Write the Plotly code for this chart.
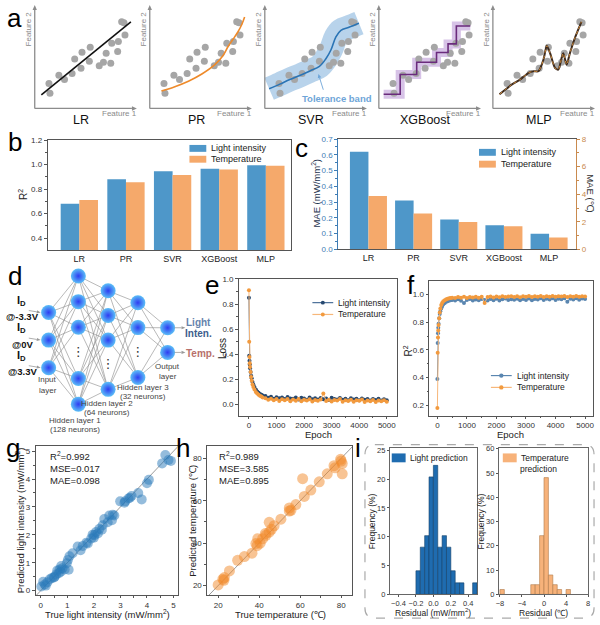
import math
import plotly.graph_objects as go

W, H = 600, 625
FONT = "Arial, Liberation Sans, sans-serif"

# ------------------------------------------------------------------ data
# panel a : schematic data
DOTS_X = [1.42, 1.52, 2.41, 2.97, 3.73, 3.99, 4.62, 4.72, 5.45, 5.54, 6.44, 6.86, 7.13, 7.59, 7.69, 8.28, 8.35, 8.68, 8.91, 9.01]
DOTS_Y = [2.47, 1.49, 3.28, 2.86, 3.44, 4.87, 3.96, 5.55, 4.64, 6.04, 4.22, 4.55, 5.45, 4.45, 6.43, 5.62, 6.59, 8.54, 8.44, 7.24]
LR_X = [0.66, 9.6]
LR_Y = [1.33, 8.54]
PR_X = [1.16, 2.5, 3.86, 5.2, 6.5, 7.3, 7.82, 8.3, 8.81, 9.2, 9.47]
PR_Y = [1.72, 2.15, 2.69, 3.4, 4.32, 5.2, 6.1, 6.8, 7.56, 8.3, 9.0]
SVR_X = [0.43, 1.5, 2.5, 3.5, 4.5, 5.45, 6.1, 6.6, 7.1, 7.6, 8.4, 9.4]
SVR_Y = [1.94, 2.4, 2.85, 3.25, 3.7, 4.14, 4.9, 5.76, 7.06, 7.7, 8.0, 8.4]
XGB_X = [0.48, 2.13, 3.78, 5.76, 6.91, 7.74, 9.13]
XGB_Y = [1.40, 3.34, 4.55, 5.52, 6.36, 8.12, 8.12]
MLP_X = [0.66, 1.91, 2.74, 3.56, 4.06, 4.55, 5.05, 5.38, 5.71, 6.2, 6.53, 6.86, 7.03, 7.36, 7.69, 8.18, 8.51, 8.84]
MLP_Y = [1.40, 2.37, 2.86, 3.51, 3.67, 3.67, 4.81, 6.17, 5.45, 3.99, 3.83, 4.97, 5.45, 4.32, 5.45, 6.92, 7.73, 8.54]
A_NAMES = ['LR', 'PR', 'SVR', 'XGBoost', 'MLP']

# panels b, c
MODELS = ['LR', 'PR', 'SVR', 'XGBoost', 'MLP']
R2_LIGHT = [0.68, 0.88, 0.945, 0.965, 0.995]
R2_TEMP = [0.71, 0.855, 0.915, 0.96, 0.99]
MAE_LIGHT = [0.62, 0.31, 0.19, 0.154, 0.10]
MAE_TEMP = [3.87, 2.6, 1.98, 1.68, 0.87]

# panel d : network
NET_SLOTS = [3, 6, 5, 4, 2]
NET_DOTS = [None, 3, 3, 2, None]
INPUT_LABELS = ['@-3.3V', '@0V', '@3.3V']

# panels e, f : training curves
EPOCHS = [0, 10, 20, 30, 40, 60, 80, 100, 130, 160, 200, 250, 300, 350, 400, 450, 500] + list(range(600, 5001, 100))
LOSS_LIGHT = [0.85, 0.39, 0.35, 0.32, 0.29, 0.26, 0.23, 0.21, 0.18, 0.16, 0.14, 0.12, 0.105, 0.095, 0.085, 0.078, 0.072,
              0.068, 0.055, 0.062, 0.048, 0.060, 0.052, 0.058, 0.045, 0.061, 0.050,
              0.047, 0.058, 0.042, 0.055, 0.049, 0.040, 0.057, 0.044, 0.052, 0.041,
              0.054, 0.043, 0.050, 0.038, 0.056, 0.045, 0.041, 0.053, 0.039, 0.048,
              0.036, 0.051, 0.042, 0.047, 0.035, 0.049, 0.040, 0.046, 0.033, 0.045,
              0.038, 0.047, 0.034, 0.043, 0.036]
LOSS_TEMP = [0.91, 0.50, 0.38, 0.33, 0.30, 0.26, 0.22, 0.19, 0.16, 0.14, 0.12, 0.10, 0.088, 0.078, 0.07, 0.064, 0.058,
             0.052, 0.040, 0.048, 0.035, 0.046, 0.030, 0.043, 0.036, 0.045, 0.028,
             0.041, 0.032, 0.046, 0.027, 0.040, 0.034, 0.044, 0.026, 0.038, 0.031,
             0.042, 0.088, 0.029, 0.039, 0.025, 0.037, 0.033, 0.045, 0.024, 0.036,
             0.030, 0.040, 0.023, 0.035, 0.031, 0.042, 0.022, 0.034, 0.028, 0.038,
             0.021, 0.033, 0.027, 0.036, 0.024]
R2C_LIGHT = [0.39, 0.65, 0.72, 0.76, 0.79, 0.83, 0.86, 0.88, 0.90, 0.915, 0.93, 0.94, 0.948, 0.953, 0.957, 0.96, 0.962,
             0.958, 0.966, 0.955, 0.940, 0.962, 0.968, 0.957, 0.965, 0.960, 0.969,
             0.962, 0.957, 0.968, 0.960, 0.970, 0.958, 0.966, 0.972, 0.961, 0.967,
             0.963, 0.971, 0.959, 0.968, 0.962, 0.972, 0.960, 0.969, 0.964, 0.973,
             0.961, 0.970, 0.965, 0.973, 0.962, 0.970, 0.966, 0.974, 0.948, 0.971,
             0.965, 0.973, 0.963, 0.972, 0.969]
R2C_TEMP = [0.18, 0.58, 0.69, 0.74, 0.78, 0.83, 0.87, 0.90, 0.925, 0.94, 0.952, 0.96, 0.966, 0.97, 0.973, 0.975, 0.977,
            0.975, 0.982, 0.978, 0.984, 0.976, 0.983, 0.979, 0.985, 0.977, 0.984,
            0.940, 0.983, 0.986, 0.979, 0.987, 0.981, 0.988, 0.982, 0.986, 0.989,
            0.983, 0.988, 0.981, 0.989, 0.984, 0.990, 0.982, 0.988, 0.985, 0.990,
            0.983, 0.989, 0.985, 0.991, 0.984, 0.988, 0.986, 0.990, 0.983, 0.989,
            0.985, 0.990, 0.984, 0.989, 0.987]

# panel g
G_TRUE = [0.02, 0.09, 0.15, 0.19, 0.25, 0.34, 0.42, 0.5, 0.52, 0.58, 0.62, 0.68, 0.71, 0.75, 0.77, 0.82, 0.9, 0.98, 1.02, 1.05,
          1.08, 1.2, 1.39, 1.5, 1.58, 1.72, 1.77, 1.9, 1.95, 2.0, 2.02, 2.08, 2.15, 2.21, 2.3, 2.33, 2.39, 2.52, 2.58, 2.68,
          2.71, 2.77, 2.99, 3.15, 3.18, 3.3, 3.36, 3.42, 3.67, 3.8, 4.0, 4.07, 4.57, 4.69, 4.81, 4.9]
G_PRED = [0.15, 0.32, 0.22, 0.18, 0.3, 0.41, 0.45, 0.47, 0.5, 0.58, 0.72, 0.62, 0.76, 0.68, 0.88, 0.8, 0.76, 0.98, 1.1, 0.75,
          1.23, 1.34, 1.58, 1.45, 1.6, 1.72, 1.69, 1.87, 2.0, 1.9, 1.99, 2.1, 2.05, 2.22, 2.18, 2.34, 2.57, 2.45, 2.69, 2.52,
          2.72, 2.69, 3.2, 3.15, 3.2, 3.3, 3.33, 3.39, 3.5, 3.27, 3.85, 3.97, 4.56, 4.86, 4.68, 4.65]
G_LINE = [-0.2, 5.2]
G_STATS = ['R<sup>2</sup>=0.992', 'MSE=0.017', 'MAE=0.098']

# panel h
H_TRUE = [20, 22.3, 23, 25.5, 29.5, 32.8, 36.5, 38.4, 39.3, 40.5, 41.7, 43.3, 44.9, 44.9, 46, 47.3, 50.6, 54.7, 54.7, 57.9,
          61.2, 62, 65.2, 69.3, 73.2, 76.5, 77, 79.7, 80.5, 80.5, 22.8, 39, 43, 55.5, 80]
H_PRED = [20.3, 23, 23.8, 26.9, 31.9, 33.7, 35.3, 39.8, 42.1, 40, 42.1, 43.7, 45.2, 49.8, 46.5, 48.2, 51.3, 55.1, 56.6, 58.2,
          70.4, 62, 65, 68.9, 72.7, 76.5, 75.5, 79.5, 72.7, 77.5, 22.5, 38.8, 44.5, 55.5, 78.7]
H_LINE = [14, 86]
H_STATS = ['R<sup>2</sup>=0.989', 'MSE=3.585', 'MAE=0.895']

# panel i : residual histograms (left bin edges, frequency %)
LIGHT_BINS = [-0.2, -0.15, -0.1, -0.05, 0.0, 0.05, 0.1, 0.15, 0.2, 0.25, 0.3, 0.45]
LIGHT_FREQ = [4.1, 8.2, 10.2, 20.4, 22.4, 8.2, 10.2, 8.2, 4.1, 2.0, 2.0, 2.0]
LIGHT_BW = 0.05
TEMP_BINS = [-8.0, -2.4, -1.6, -0.8, 0.0, 0.8, 1.6, 2.4, 4.0]
TEMP_FREQ = [2.0, 4.0, 4.0, 24.2, 48.1, 8.0, 4.0, 2.0, 2.0]
TEMP_BW = 0.8

# colours
BLUE = '#4e97c9'
ORANGE = '#f5a96b'

# ------------------------------------------------------------------ helpers
fig = go.Figure()
L = {}
ann = []
shp = []


def X(p):
    return p / W


def Y(p):
    return 1 - p / H


def xid(n):
    return 'x' if n == 1 else f'x{n}'


def yid(n):
    return 'y' if n == 1 else f'y{n}'


def xkey(n):
    return 'xaxis' if n == 1 else f'xaxis{n}'


def ykey(n):
    return 'yaxis' if n == 1 else f'yaxis{n}'


def txt(x, y, s, size=9, color='#222', angle=0, xanchor='center', yanchor='middle', align='center'):
    ann.append(dict(x=X(x), y=Y(y), xref='paper', yref='paper', text=s, showarrow=False,
                    font=dict(size=size, color=color, family=FONT), textangle=angle,
                    xanchor=xanchor, yanchor=yanchor, align=align))


def arrow(x1, y1, x0, y0, color, width=1.0, hl=5.0, hw=2.5):
    """line from (x0,y0) to head at (x1,y1), in picture pixels"""
    dx, dy = x1 - x0, y1 - y0
    d = math.hypot(dx, dy)
    ux, uy = dx / d, dy / d
    bx, by = x1 - ux * hl, y1 - uy * hl
    shp.append(dict(type='line', xref='paper', yref='paper', x0=X(x0), y0=Y(y0), x1=X(bx), y1=Y(by),
                    line=dict(color=color, width=width)))
    qx, qy = -uy, ux
    p1 = (bx + qx * hw, by + qy * hw)
    p2 = (bx - qx * hw, by - qy * hw)
    shp.append(dict(type='path', xref='paper', yref='paper',
                    path=f"M {X(x1)},{Y(y1)} L {X(p1[0])},{Y(p1[1])} L {X(p2[0])},{Y(p2[1])} Z",
                    fillcolor=color, line=dict(width=0)))


def rect(x0, y0, x1, y1, fill):
    shp.append(dict(type='rect', xref='paper', yref='paper', x0=X(x0), x1=X(x1), y0=Y(y1), y1=Y(y0),
                    fillcolor=fill, line=dict(width=0)))


def hline(x0, x1, y, color, width=1):
    shp.append(dict(type='line', xref='paper', yref='paper', x0=X(x0), x1=X(x1), y0=Y(y), y1=Y(y),
                    line=dict(color=color, width=width)))


def dot(x, y, r, color):
    shp.append(dict(type='circle', xref='paper', yref='paper', x0=X(x - r), x1=X(x + r), y0=Y(y + r), y1=Y(y - r),
                    fillcolor=color, line=dict(width=0)))


def frame_axis(**kw):
    d = dict(showline=True, mirror=True, linecolor='#555', linewidth=0.8, ticks='outside', ticklen=3,
             tickwidth=0.8, tickcolor='#555', tickfont=dict(size=8, color='#333', family=FONT),
             showgrid=False, zeroline=False, fixedrange=True)
    d.update(kw)
    return d


# ------------------------------------------------------------------ panel a
A_ORIG = [32, 148, 264, 379, 494]
for i, o in enumerate(A_ORIG):
    n = i + 1
    L[xkey(n)] = dict(domain=[X(o), X(o + 101)], range=[0, 10], visible=False, anchor=yid(n), fixedrange=True)
    L[ykey(n)] = dict(domain=[Y(106), Y(3)], range=[0, 10], visible=False, anchor=xid(n), fixedrange=True)
    arrow(o + 103, 106, o, 106, '#8c8c8c', 1.3, 5, 2.2)
    arrow(o, 1, o, 106, '#8c8c8c', 1.3, 5, 2.2)
    txt(o + 85, 111, 'Feature 1', 8, '#8a8a8a')
    txt(o - 6, 25, 'Feature 2', 8, '#8a8a8a', angle=-90)
    txt(o + 47, 118, A_NAMES[i], 12.5, '#111')

    ax = dict(xaxis=xid(n), yaxis=yid(n), hoverinfo='skip', showlegend=False)
    if n == 3:
        fig.add_trace(go.Scatter(x=SVR_X, y=SVR_Y, mode='lines', line=dict(color='rgba(160,196,228,0.75)', width=24, shape='spline'), **ax))
    if n == 4:
        fig.add_trace(go.Scatter(x=XGB_X, y=XGB_Y, mode='lines', line=dict(color='rgba(205,180,225,0.8)', width=9, shape='hv'), **ax))
    fig.add_trace(go.Scatter(x=DOTS_X, y=DOTS_Y, mode='markers', marker=dict(size=7, color='#a6a6a6'), **ax))
    if n == 1:
        fig.add_trace(go.Scatter(x=LR_X, y=LR_Y, mode='lines', line=dict(color='#111', width=1.6), **ax))
    elif n == 2:
        fig.add_trace(go.Scatter(x=PR_X, y=PR_Y, mode='lines', line=dict(color='#ee8a2a', width=1.6, shape='spline'), **ax))
    elif n == 3:
        fig.add_trace(go.Scatter(x=SVR_X, y=SVR_Y, mode='lines', line=dict(color='#2a74b5', width=1.6, shape='spline'), **ax))
    elif n == 4:
        fig.add_trace(go.Scatter(x=XGB_X, y=XGB_Y, mode='lines', line=dict(color='#6a2b7c', width=1.6, shape='hv'), **ax))
    else:
        fig.add_trace(go.Scatter(x=MLP_X, y=MLP_Y, mode='lines', line=dict(color='#3c2a1e', width=2.0, shape='spline', smoothing=0.7), **ax))
        fig.add_trace(go.Scatter(x=MLP_X, y=MLP_Y, mode='lines', line=dict(color='#f6a444', width=0.8, shape='spline', smoothing=0.7, dash='dot'), **ax))

txt(337, 96, '<b>Tolerance band</b>', 9.5, '#6ea5d8')
arrow(318, 71, 323, 87, '#6ea5d8', 0.9, 4, 1.8)

# ------------------------------------------------------------------ panel b
L[xkey(6)] = frame_axis(domain=[X(45), X(290)], anchor='y6', type='category', range=[-0.68, 4.53], ticks='',
                        tickfont=dict(size=9, color='#222', family=FONT))
L[ykey(6)] = frame_axis(domain=[Y(250), Y(138)], anchor='x6', range=[0.3, 1.2], tickvals=[0.4, 0.6, 0.8, 1.0, 1.2],
                        tickformat='.1f', minor=dict(ticks='outside', ticklen=2, tickvals=[0.5, 0.7, 0.9, 1.1], tickcolor='#555'))
fig.add_trace(go.Bar(x=MODELS, y=R2_LIGHT, width=0.4, offset=-0.4, marker=dict(color=BLUE, line=dict(width=0)),
                     xaxis='x6', yaxis='y6', showlegend=False))
fig.add_trace(go.Bar(x=MODELS, y=R2_TEMP, width=0.4, offset=0.0, marker=dict(color=ORANGE, line=dict(width=0)),
                     xaxis='x6', yaxis='y6', showlegend=False))
txt(20, 193, 'R<sup>2</sup>', 10, '#222', angle=-90)
rect(188, 143, 205, 150, BLUE)
txt(208, 146.5, 'Light intensity', 9, '#222', xanchor='left')
rect(188, 154, 205, 161, ORANGE)
txt(208, 157.5, 'Temperature', 9, '#222', xanchor='left')

# ------------------------------------------------------------------ panel c
AXB = '#3f7db5'
AXO = '#c98a4e'
L[xkey(7)] = frame_axis(domain=[X(338), X(578)], anchor='y7', type='category', range=[-0.67, 4.6], ticks='',
                        tickfont=dict(size=9, color='#222', family=FONT))
L[ykey(7)] = frame_axis(domain=[Y(249), Y(137)], anchor='x7', range=[0, 0.7], dtick=0.1, tick0=0, tickformat='.1f',
                        mirror=False, linecolor=AXB, tickcolor=AXB, tickfont=dict(size=8, color=AXB, family=FONT),
                        minor=dict(ticks='outside', ticklen=2, dtick=0.05, tickcolor=AXB))
L[ykey(8)] = frame_axis(anchor='x7', overlaying='y7', side='right', range=[0, 8], tickvals=[0, 2, 4, 6, 8],
                        mirror=False, linecolor=AXO, tickcolor=AXO, tickfont=dict(size=8, color=AXO, family=FONT),
                        minor=dict(ticks='outside', ticklen=2, tickvals=[1, 3, 5, 7], tickcolor=AXO))
fig.add_trace(go.Bar(x=MODELS, y=MAE_LIGHT, width=0.41, offset=-0.41, marker=dict(color=BLUE, line=dict(width=0)),
                     xaxis='x7', yaxis='y7', showlegend=False))
fig.add_trace(go.Bar(x=MODELS, y=MAE_TEMP, width=0.41, offset=0.0, marker=dict(color=ORANGE, line=dict(width=0)),
                     xaxis='x7', yaxis='y8', showlegend=False))
txt(316, 192, 'MAE (mW/mm<sup>2</sup>)', 9.5, '#1f3550', angle=-90)
txt(593, 192, 'MAE (℃)', 9.5, '#333', angle=90)
rect(480, 147, 497, 154, BLUE)
txt(500, 150.5, 'Light intensity', 9, '#222', xanchor='left')
rect(480, 159, 497, 166, ORANGE)
txt(500, 162.5, 'Temperature', 9, '#222', xanchor='left')

# ------------------------------------------------------------------ panel d
NET_GAP = [28, 26, 25, 25.3, 25]
L[xkey(9)] = dict(domain=[0, X(200)], range=[0, 200], visible=False, anchor='y9', fixedrange=True)
L[ykey(9)] = dict(domain=[Y(440), Y(262)], range=[440, 262], visible=False, anchor='x9', fixedrange=True)
layer_x = []
layer_nodes = []
dots_x, dots_y = [], []
for li, ns in enumerate(NET_SLOTS):
    lx = 46 + 30 * li
    layer_x.append(lx)
    nodes = []
    for j in range(ns):
        yy = 341 + (j - (ns - 1) / 2) * NET_GAP[li]
        if NET_DOTS[li] == j:
            dots_x.append(lx)
            dots_y.append(yy)
        else:
            nodes.append(yy)
    layer_nodes.append(nodes)
ex, ey = [], []
for li in range(len(NET_SLOTS) - 1):
    for a in layer_nodes[li]:
        for b in layer_nodes[li + 1]:
            ex += [layer_x[li], layer_x[li + 1], None]
            ey += [a, b, None]
fig.add_trace(go.Scatter(x=ex, y=ey, mode='lines', line=dict(color='#8a8a8a', width=0.6),
                         xaxis='x9', yaxis='y9', hoverinfo='skip', showlegend=False))
nx, ny = [], []
for li, nodes in enumerate(layer_nodes):
    for yy in nodes:
        nx.append(layer_x[li])
        ny.append(yy)
fig.add_trace(go.Scatter(x=nx, y=ny, mode='markers',
                         marker=dict(size=15, color='#5cc0f7', gradient=dict(type='radial', color='#2f3df2'),
                                     line=dict(width=0)),
                         xaxis='x9', yaxis='y9', hoverinfo='skip', showlegend=False))
fig.add_trace(go.Scatter(x=dots_x, y=dots_y, mode='text', text=['⋮'] * len(dots_x),
                         textfont=dict(size=13, color='#333', family='DejaVu Sans'),
                         xaxis='x9', yaxis='y9', hoverinfo='skip', showlegend=False))
for k, yy in enumerate(layer_nodes[0]):
    txt(19, yy - 12, '<b>I<sub>D</sub></b>', 11, '#111')
    txt(20, yy + 4, '<b>' + INPUT_LABELS[k] + '</b>', 9.5, '#111')
    arrow(38, yy, 26, yy - 2, '#999', 0.8, 4, 1.6)
for yy in layer_nodes[-1]:
    arrow(184, yy, 173, yy, '#999', 0.8, 4, 1.6)
txt(197, 323, '<b>Light</b>', 10, '#6583ad')
txt(197, 334, '<b>Inten.</b>', 10, '#3d5d8c')
txt(199, 355, '<b>Temp.</b>', 10, '#b8706a')
txt(45, 381, 'Input', 8, '#444')
txt(45, 392, 'layer', 8, '#444')
txt(166, 368, 'Output', 8, '#444')
txt(166, 378, 'layer', 8, '#444')
txt(141, 389, 'Hidden layer 3', 8, '#444')
txt(141, 398, '(32 neurons)', 8, '#444')
txt(105, 405, 'Hidden layer 2', 8, '#444')
txt(105, 414, '(64 neurons)', 8, '#444')
txt(73, 423, 'Hidden layer 1', 8, '#444')
txt(73, 432, '(128 neurons)', 8, '#444')

# ------------------------------------------------------------------ panel e
C_LD = '#26486f'
C_LL = '#4a6f98'
C_TD = '#f29a3e'
C_TL = '#f7b77a'
L[xkey(10)] = frame_axis(domain=[X(238), X(397)], anchor='y10', range=[-360, 5360], dtick=1000, tick0=0, ticklen=2,
                         minor=dict(ticks='outside', ticklen=1.5, dtick=500, tickcolor='#555'))
L[ykey(10)] = frame_axis(domain=[Y(418), Y(279)], anchor='x10', range=[-0.09, 1.0], dtick=0.2, tick0=0, tickformat='.1f',
                         minor=dict(ticks='outside', ticklen=2, dtick=0.1, tickcolor='#555'))
fig.add_trace(go.Scatter(x=EPOCHS, y=LOSS_LIGHT, mode='lines+markers', line=dict(color=C_LL, width=1),
                         marker=dict(size=4, color=C_LD), xaxis='x10', yaxis='y10', showlegend=False))
fig.add_trace(go.Scatter(x=EPOCHS, y=LOSS_TEMP, mode='lines+markers', line=dict(color=C_TL, width=1),
                         marker=dict(size=4, color=C_TD), xaxis='x10', yaxis='y10', showlegend=False))
txt(222, 350, 'Loss', 10, '#222', angle=-90)
txt(318, 437, 'Epoch', 9.5, '#222')
hline(312, 333, 303, C_LL, 1.2)
dot(322.5, 303, 2, C_LD)
txt(336, 303, 'Light intensity', 8.5, '#222', xanchor='left')
hline(312, 333, 315, C_TL, 1.2)
dot(322.5, 315, 2, C_TD)
txt(336, 315, 'Temperature', 8.5, '#222', xanchor='left')

# ------------------------------------------------------------------ panel f
C_FL = '#5a86b0'
L[xkey(11)] = frame_axis(domain=[X(430), X(595)], anchor='y11', range=[-270, 5270], dtick=1000, tick0=0, ticklen=2,
                         minor=dict(ticks='outside', ticklen=1.5, dtick=500, tickcolor='#555'))
L[ykey(11)] = frame_axis(domain=[Y(418), Y(281)], anchor='x11', range=[0.122, 1.099], dtick=0.2, tick0=0, tickformat='.1f',
                         minor=dict(ticks='outside', ticklen=2, dtick=0.1, tickcolor='#555'))
fig.add_trace(go.Scatter(x=EPOCHS, y=R2C_LIGHT, mode='lines+markers', line=dict(color=C_FL, width=1),
                         marker=dict(size=4, color=C_FL), xaxis='x11', yaxis='y11', showlegend=False))
fig.add_trace(go.Scatter(x=EPOCHS, y=R2C_TEMP, mode='lines+markers', line=dict(color=C_TL, width=1),
                         marker=dict(size=4, color=C_TD), xaxis='x11', yaxis='y11', showlegend=False))
txt(408, 352, 'R<sup>2</sup>', 10, '#222', angle=-90)
txt(512, 437, 'Epoch', 9.5, '#222')
hline(492, 513, 377, C_FL, 1.2)
dot(502.5, 377, 2.2, C_FL)
txt(516, 377, 'Light intensity', 8.5, '#222', xanchor='left')
hline(492, 513, 389, C_TL, 1.2)
dot(502.5, 389, 2.2, C_TD)
txt(516, 389, 'Temperature', 8.5, '#222', xanchor='left')

# ------------------------------------------------------------------ panel g
L[xkey(12)] = frame_axis(domain=[X(33), X(176)], anchor='y12', range=[-0.19, 5.15], dtick=1, tick0=0, ticklen=2,
                         minor=dict(ticks='outside', ticklen=1.5, dtick=0.5, tickcolor='#555'))
L[ykey(12)] = frame_axis(domain=[Y(600), Y(448)], anchor='x12', range=[-0.17, 5.2], dtick=1, tick0=0,
                         minor=dict(ticks='outside', ticklen=2, dtick=0.5, tickcolor='#555'))
fig.add_trace(go.Scatter(x=G_LINE, y=G_LINE, mode='lines', line=dict(color='#9a9a9a', width=1),
                         xaxis='x12', yaxis='y12', showlegend=False, hoverinfo='skip'))
fig.add_trace(go.Scatter(x=G_TRUE, y=G_PRED, mode='markers', marker=dict(size=10, color='#2a7ab9', opacity=0.5, line=dict(width=0)),
                         xaxis='x12', yaxis='y12', showlegend=False))
for k, s in enumerate(G_STATS):
    txt(45, 459 + 12 * k, s, 9.5, '#222', xanchor='left')
txt(18, 524, 'Predicted light intensity (mW/mm<sup>2</sup>)', 9.5, '#222', angle=-90)
txt(105, 619, 'True light intensity (mW/mm<sup>2</sup>)', 9.5, '#222')

# ------------------------------------------------------------------ panel h
L[xkey(13)] = frame_axis(domain=[X(206), X(352)], anchor='y13', range=[14.7, 85.3], dtick=20, tick0=0, ticklen=2,
                         minor=dict(ticks='outside', ticklen=1.5, dtick=10, tickcolor='#555'))
L[ykey(13)] = frame_axis(domain=[Y(600), Y(448)], anchor='x13', range=[15.4, 86], dtick=20, tick0=0,
                         minor=dict(ticks='outside', ticklen=2, dtick=10, tickcolor='#555'))
fig.add_trace(go.Scatter(x=H_LINE, y=H_LINE, mode='lines', line=dict(color='#9a9a9a', width=1),
                         xaxis='x13', yaxis='y13', showlegend=False, hoverinfo='skip'))
fig.add_trace(go.Scatter(x=H_TRUE, y=H_PRED, mode='markers', marker=dict(size=11, color='#f28a2a', opacity=0.5, line=dict(width=0)),
                         xaxis='x13', yaxis='y13', showlegend=False))
for k, s in enumerate(H_STATS):
    txt(216, 459 + 12 * k, s, 9.5, '#222', xanchor='left')
txt(191, 524, 'Predicted temperature (℃)', 9.5, '#222', angle=-90)
txt(280, 619, 'True temperature (℃)', 9.5, '#222')

# ------------------------------------------------------------------ panel i
IFONT = dict(size=7.5, color='#333', family=FONT)
L[xkey(14)] = frame_axis(domain=[X(390), X(478)], anchor='y14', range=[-0.5, 0.5], tickvals=[-0.4, -0.2, 0, 0.2, 0.4],
                         tickformat='.1f', linecolor='#666', ticklen=2, tickfont=IFONT)
L[ykey(14)] = frame_axis(domain=[Y(599), Y(450)], anchor='x14', range=[0, 25.5], dtick=5, tick0=0, linecolor='#666',
                         ticklen=2, tickfont=IFONT)
fig.add_trace(go.Bar(x=LIGHT_BINS, y=LIGHT_FREQ, width=LIGHT_BW, offset=0,
                     marker=dict(color='#1f6cb0', line=dict(color='#133f68', width=0.6)),
                     xaxis='x14', yaxis='y14', showlegend=False))
L[xkey(15)] = frame_axis(domain=[X(500), X(590)], anchor='y15', range=[-8.2, 8.0], tickvals=[-8, -4, 0, 4, 8],
                         linecolor='#666', ticklen=2, tickfont=IFONT)
L[ykey(15)] = frame_axis(domain=[Y(599), Y(450)], anchor='x15', range=[0, 60.5], dtick=10, tick0=0, linecolor='#666',
                         ticklen=2, tickfont=IFONT)
fig.add_trace(go.Bar(x=TEMP_BINS, y=TEMP_FREQ, width=TEMP_BW, offset=0,
                     marker=dict(color='#f7b27a', line=dict(color='#b07a4a', width=0.6)),
                     xaxis='x15', yaxis='y15', showlegend=False))
txt(373, 525, 'Frequency (%)', 8.5, '#222', angle=-90)
txt(482, 525, 'Frequency (%)', 8.5, '#222', angle=-90)
txt(434, 617.5, 'Residual (mW/mm<sup>2</sup>)', 8.5, '#222')
txt(545, 617.5, 'Residual (℃)', 8.5, '#222')
rect(392, 456, 406, 465, '#1f6cb0')
txt(408, 460.5, 'Light prediction', 8.5, '#222', xanchor='left')
rect(504, 456, 518, 465, '#f7b27a')
txt(520, 460.5, 'Temperature', 8.5, '#222', xanchor='left')
txt(540, 472, 'prediction', 8.5, '#222')

# rounded dashed frame
bx0, by0, bx1, by1, r = 365, 447, 596, 623, 10
path = (f"M {X(bx0 + r)},{Y(by0)} L {X(bx1 - r)},{Y(by0)} Q {X(bx1)},{Y(by0)} {X(bx1)},{Y(by0 + r)} "
        f"L {X(bx1)},{Y(by1 - r)} Q {X(bx1)},{Y(by1)} {X(bx1 - r)},{Y(by1)} "
        f"L {X(bx0 + r)},{Y(by1)} Q {X(bx0)},{Y(by1)} {X(bx0)},{Y(by1 - r)} "
        f"L {X(bx0)},{Y(by0 + r)} Q {X(bx0)},{Y(by0)} {X(bx0 + r)},{Y(by0)} Z")
shp.append(dict(type='path', xref='paper', yref='paper', path=path, line=dict(color='#aaaaaa', width=1.2, dash='dash')))

# ------------------------------------------------------------------ panel letters
for letter, lx, ly in [('a', 12, 14), ('b', 12, 140), ('c', 301, 146), ('d', 12, 276), ('e', 211, 285),
                       ('f', 411, 285), ('g', 10, 450), ('h', 182, 450), ('i', 358, 450)]:
    txt(lx, ly, letter, 26, '#000')

fig.update_layout(**L)
fig.update_layout(width=W, height=H, margin=dict(l=0, r=0, t=0, b=0), showlegend=False,
                  plot_bgcolor='white', paper_bgcolor='white', font=dict(family=FONT),
                  annotations=ann, shapes=shp, barmode='overlay')
fig.write_html('out.html')
